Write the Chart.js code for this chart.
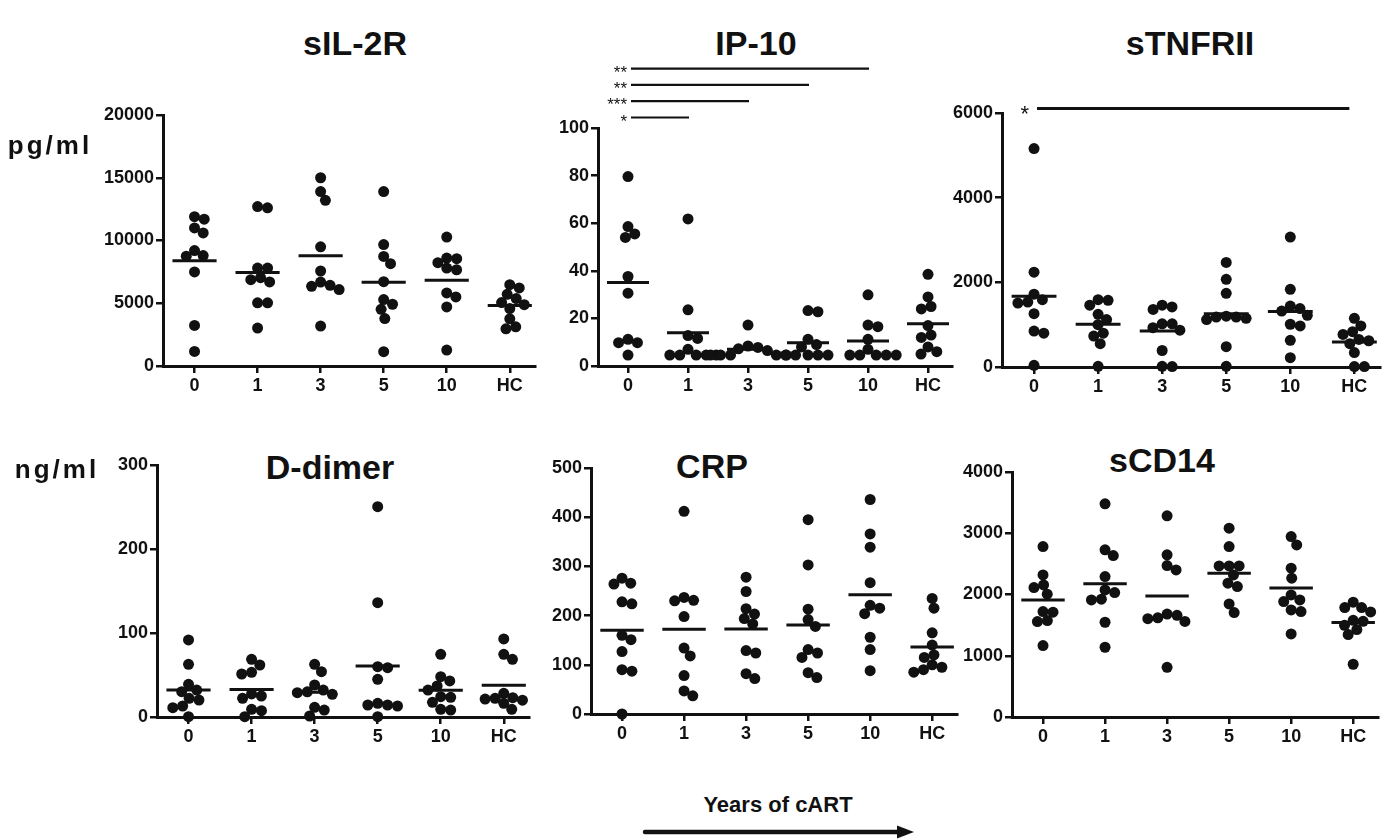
<!DOCTYPE html>
<html><head><meta charset="utf-8">
<script src="https://cdn.jsdelivr.net/npm/chart.js@4.4.1/dist/chart.umd.min.js"></script>
<style>
html,body{margin:0;padding:0;background:#fff;width:1393px;height:839px;overflow:hidden;position:relative;font-family:"Liberation Sans",Arial,sans-serif;}
.t{position:absolute;transform:translate(-50%,-50%);font-weight:bold;color:#111;white-space:nowrap;}
canvas{position:absolute;}
svg{position:absolute;left:0;top:0;}
</style></head><body>
<script>
// ---- data ----
const categories = ['0', '1', '3', '5', '10', 'HC'];

const sil2r = [
  [11700, 11900, 10600, 11000, 9200, 8800, 8750, 7500, 3230, 1160],
  [12700, 12600, 7040, 7800, 7800, 6700, 6880, 5030, 5030, 3020],
  [15000, 13900, 13200, 9500, 7570, 6350, 6690, 6430, 6090, 3180],
  [13900, 9680, 8730, 8150, 6720, 4520, 5290, 4920, 3780, 1140],
  [10270, 8230, 8600, 8550, 7670, 7800, 5500, 5820, 4710, 1270],
  [6480, 6220, 5710, 5370, 5050, 4890, 4580, 3760, 2960, 3120]
];
const ip10 = [
  [79.6, 58.6, 54.0, 55.5, 37.6, 30.6, 9.8, 11.2, 9.8, 4.6],
  [61.8, 23.6, 12.8, 11.6, 7.0, 4.6, 4.6, 4.6, 4.6, 4.6],
  [17.2, 8.4, 7.8, 7.2, 6.5, 4.6, 4.6, 4.6, 4.6, 4.6],
  [23.3, 22.8, 11.2, 9.0, 8.0, 4.6, 4.6, 4.6, 4.6, 4.6],
  [29.9, 16.5, 17.2, 11.2, 7.0, 4.6, 4.6, 4.6, 4.6, 4.6],
  [38.5, 29, 25, 24, 17, 13, 12, 8, 6, 5]
];
const stnfrii = [
  [5160, 2240, 1720, 1535, 1590, 1510, 1260, 850, 800, 40],
  [1575, 1460, 1590, 1245, 1000, 1120, 730, 800, 550, 16],
  [1420, 1360, 1460, 1020, 1020, 930, 870, 390, 16, 10],
  [2470, 2070, 1740, 1200, 1180, 1120, 1150, 1180, 480, 16],
  [3070, 1835, 1440, 1380, 1220, 970, 1010, 630, 220, 1320],
  [1150, 970, 770, 835, 650, 550, 620, 340, 10, 10]
];
const ddimer = [
  [91.7, 62.7, 38.9, 32.1, 30.2, 22.2, 20.2, 13.1, 11.1, 0.4],
  [68.7, 61.9, 51.2, 53.2, 25, 22.2, 27.4, 9.1, 7.5, 0.4],
  [62.7, 54, 38.1, 32.1, 30, 27, 28.9, 11.5, 8.3, 1.2],
  [250.4, 136.1, 58.7, 59.9, 44.8, 14.3, 16.3, 14.3, 13.1, 0.4],
  [74.6, 48, 42.9, 36.9, 32.1, 24.2, 23.4, 17.5, 8.3, 9.1],
  [92.9, 68.7, 74.6, 21.4, 23, 28.2, 22.3, 16.3, 9.1, 20]
];
const crp = [
  [276, 266, 264, 224, 228, 160, 151, 127, 90, 87, 0],
  [412, 237, 230, 231, 198, 134, 118, 78, 47, 37],
  [278, 249, 214, 203, 194, 183, 129, 124, 82, 72],
  [395, 303, 213, 192, 178, 124, 115, 131, 74, 84],
  [436, 366, 339, 267, 221, 215, 204, 156, 131, 88],
  [235, 215, 165, 140, 120, 115, 100, 95, 90, 85]
];
const scd14 = [
  [2783, 2320, 2157, 2113, 2005, 1721, 1711, 1574, 1558, 1166],
  [3480, 2729, 2636, 2293, 2031, 2075, 1912, 1923, 1547, 1139],
  [3284, 2647, 2473, 2402, 1606, 1660, 1560, 1680, 1620, 812],
  [3083, 2783, 2467, 2467, 2467, 2184, 2129, 2320, 1846, 1705],
  [2946, 2810, 2429, 2266, 1993, 1912, 1884, 1748, 1721, 1356],
  [1874, 1786, 1786, 1716, 1563, 1579, 1427, 1498, 1345, 861]
];
// significance brackets: star label and target category index (from category 0)
const ip10SigMarks = ['*', '***', '**', '**'];
const ip10SigTo = [1, 2, 3, 4];
const stnfriiSigMarks = ['*'];
const stnfriiSigTo = [5];

// ---- layout ----
const FONT = '"Liberation Sans", Arial, sans-serif';
const panels = [
  {title:'sIL-2R', values:sil2r, max:20000, step:5000, left:163, top:115, w:372, h:251, tx:355, ty:43},
  {title:'IP-10', values:ip10, max:100, step:20, left:598, top:128, w:354, h:238, tx:756, ty:43,
   sig:{marks:ip10SigMarks, to:ip10SigTo, gap:10.5, endAdj:1, size:17, lw:2.2, dy:9}},
  {title:'sTNFRII', values:stnfrii, max:6000, step:2000, left:1002, top:113, w:378, h:254, tx:1190, ty:43,
   sig:{marks:stnfriiSigMarks, to:stnfriiSigTo, gap:4.5, endAdj:-5, size:22, lw:3, dy:12, textGap:8}},
  {title:'D-dimer', values:ddimer, max:300, step:100, left:157, top:465, w:372, h:252, tx:330, ty:467},
  {title:'CRP', values:crp, max:500, step:100, left:591, top:468, w:366, h:246, tx:712, ty:466},
  {title:'sCD14', values:scd14, max:4000, step:1000, left:1012, top:472, w:366, h:245, tx:1162, ty:460}
];

const sigPlugin = {
  id:'sig',
  afterDatasetsDraw(chart, args, o){
    if(!o || !o.marks) return;
    const ctx = chart.ctx, ca = chart.chartArea, xs = chart.scales.x;
    ctx.save();
    ctx.strokeStyle = '#111'; ctx.fillStyle = '#111'; ctx.lineWidth = o.lw;
    ctx.font = o.size + 'px ' + FONT;
    ctx.textAlign = 'right'; ctx.textBaseline = 'alphabetic';
    o.marks.forEach((m, k) => {
      const y = ca.top - o.gap - k * 16.3;
      const x0 = xs.getPixelForValue(0) + 3;
      const x1 = xs.getPixelForValue(o.to[k]) + o.endAdj;
      ctx.beginPath(); ctx.moveTo(x0, y); ctx.lineTo(x1, y); ctx.stroke();
      ctx.fillText(m, x0 - (o.textGap || 4), y + o.dy);
    });
    ctx.restore();
  }
};
Chart.register(sigPlugin);

const AX = 80, PT = 80, PR = 20, XH = 36;
const axisStyle = {
  grid:{display:true, drawOnChartArea:false, drawTicks:true, tickLength:7, color:'#111', lineWidth:2.5},
  border:{display:true, color:'#111', width:3}
};

panels.forEach(p => {
  const t = document.createElement('div');
  t.className = 't'; t.textContent = p.title;
  t.style.left = p.tx + 'px'; t.style.top = p.ty + 'px'; t.style.fontSize = '34px';
  document.body.appendChild(t);

  const cv = document.createElement('canvas');
  const W = AX + p.w + PR, H = PT + p.h + XH;
  cv.width = W; cv.height = H;
  cv.style.width = W + 'px'; cv.style.height = H + 'px';
  cv.style.left = (p.left - AX) + 'px'; cv.style.top = (p.top - PT) + 'px';
  document.body.appendChild(cv);

  const datasets = [{
    type:'scatter',
    data: p.values.flatMap((g, gi) => g.map(v => ({x:gi, y:v}))),
    backgroundColor:'#111', borderColor:'#111', borderWidth:0,
    pointRadius:5.5, pointHoverRadius:5.5, clip:false, order:1
  }];
  p.values.forEach((g, gi) => {
    const m = g.reduce((a, b) => a + b, 0) / g.length;
    datasets.push({type:'line', data:[{x:gi - 0.35, y:m}, {x:gi + 0.35, y:m}],
      borderColor:'#111', borderWidth:3, pointRadius:0, fill:false, clip:false, order:0});
  });

  const chart = new Chart(cv, {
    type:'scatter',
    data:{datasets},
    options:{
      responsive:false, animation:false, devicePixelRatio:1,
      layout:{padding:{top:PT, right:PR, left:0, bottom:0}},
      plugins:{legend:{display:false}, tooltip:{enabled:false}, sig: p.sig || {}},
      scales:{
        x:Object.assign({type:'linear', min:-0.5, max:5.4,
          afterBuildTicks:s => { s.ticks = categories.map((c, i) => ({value:i})); },
          afterFit:s => { s.height = XH; },
          ticks:{callback:v => categories[v], color:'#111', font:{family:FONT, size:18, weight:'bold'},
                 padding:2, autoSkip:false, maxRotation:0}}, axisStyle),
        y:Object.assign({type:'linear', min:0, max:p.max,
          afterFit:s => { s.width = AX; },
          ticks:{stepSize:p.step, callback:v => String(v), color:'#111',
                 font:{family:FONT, size:18, weight:'bold'}, padding:2}}, axisStyle)
      }
    }
  });

  // beeswarm: spread overlapping dots horizontally around each category
  const ys = chart.scales.y, xs = chart.scales.x;
  const catPx = xs.getPixelForValue(1) - xs.getPixelForValue(0);
  const D = 10;
  const pts = [];
  p.values.forEach((g, gi) => {
    const placed = [];
    const idx = g.map((v, i) => i).sort((a, b) => g[b] - g[a]);
    idx.forEach(i => {
      const py = ys.getPixelForValue(g[i]);
      const cands = [0];
      placed.forEach(q => {
        const dy = Math.abs(q.py - py);
        if (dy < D) { const dx = Math.sqrt(D * D - dy * dy); cands.push(q.px + dx, q.px - dx); }
      });
      cands.sort((a, b) => Math.abs(a) - Math.abs(b) || b - a);
      const px = cands.find(c => placed.every(q => Math.hypot(q.px - c, q.py - py) >= D - 0.01));
      placed.push({px, py});
      pts.push({x: gi + px / catPx, y: g[i]});
    });
  });
  chart.data.datasets[0].data = pts;
  chart.update('none');
});

// side unit labels and footer
[['pg/ml', 50, 145], ['ng/ml', 57, 469]].forEach(([s, x, y]) => {
  const d = document.createElement('div');
  d.className = 't'; d.textContent = s; d.style.left = x + 'px'; d.style.top = y + 'px';
  d.style.fontSize = '26px'; d.style.letterSpacing = '3px';
  document.body.appendChild(d);
});
const f = document.createElement('div');
f.className = 't'; f.textContent = 'Years of cART';
f.style.left = '778px'; f.style.top = '805px'; f.style.fontSize = '22px';
document.body.appendChild(f);
document.body.insertAdjacentHTML('beforeend',
  '<svg width="1393" height="839"><line x1="645" y1="832" x2="900" y2="832" stroke="#111" stroke-width="4.5" stroke-linecap="round"/>' +
  '<polygon points="897,825.5 914,832 897,838.5" fill="#111"/></svg>');
</script>
</body></html>
